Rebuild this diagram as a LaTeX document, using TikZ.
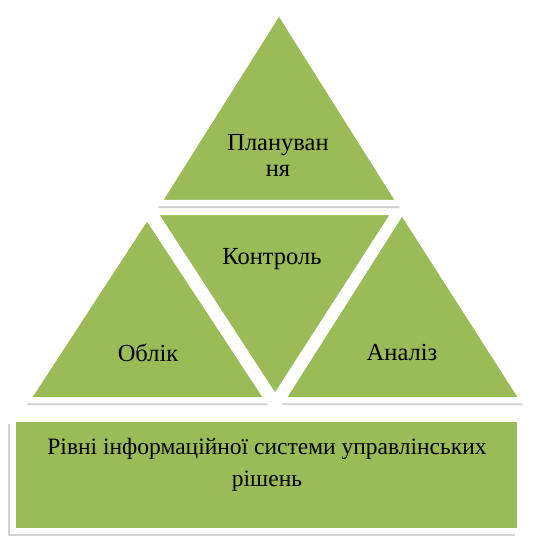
\documentclass[tikz,border=0pt]{standalone}
\usepackage{fontspec}
\setmainfont{Liberation Serif}
\newfontfamily\timesfont{Liberation Serif}
\usetikzlibrary{shadows}
\definecolor{levelgreen}{HTML}{9BBB59}
\definecolor{shadowgray}{HTML}{7F7F7F}

\begin{document}
\begin{tikzpicture}[x=1pt, y=-1pt]
    \tikzstyle{tri} = [fill=levelgreen, draw=white, line width=6pt,
        line join=miter, drop shadow={shadow xshift=0pt,
        shadow yshift=-5pt, opacity=0.35, fill=shadowgray}]
    \tikzstyle{basebox} = [fill=levelgreen, draw=white, line width=6pt,
        drop shadow={shadow xshift=-5pt, shadow yshift=-5pt,
        opacity=0.35, fill=shadowgray}]
    \tikzstyle{lbl} = [font=\timesfont\fontsize{24.5}{26}\selectfont,
        align=center, inner sep=0pt]

    \useasboundingbox[fill=white] (0,0) rectangle (537,537);

    % levels of the pyramid
    \draw[tri] (279,11) -- (400,203) -- (158,203) -- cycle;
    \draw[tri] (147,216) -- (268,400) -- (27,400) -- cycle;
    \draw[tri] (402,211) -- (523,400) -- (282,400) -- cycle;
    \draw[tri] (154,212) -- (395,212) -- (275,398) -- cycle;
    \draw[basebox] (13,419) rectangle (520,531);

    \node(planning) [lbl] at (278,155) {Плануван\\ня};
    \node(control) [lbl] at (272,259) {Контроль};
    \node(accounting) [lbl] at (148,352.5) {Облік};
    \node(analysis) [lbl] at (402,352.5) {Аналіз};
    \node(levels) [lbl, font=\timesfont\fontsize{23.5}{32}\selectfont]
        at (267,464.5)
        {Рівні інформаційної системи управлінських\\рішень};
\end{tikzpicture}
\end{document}
